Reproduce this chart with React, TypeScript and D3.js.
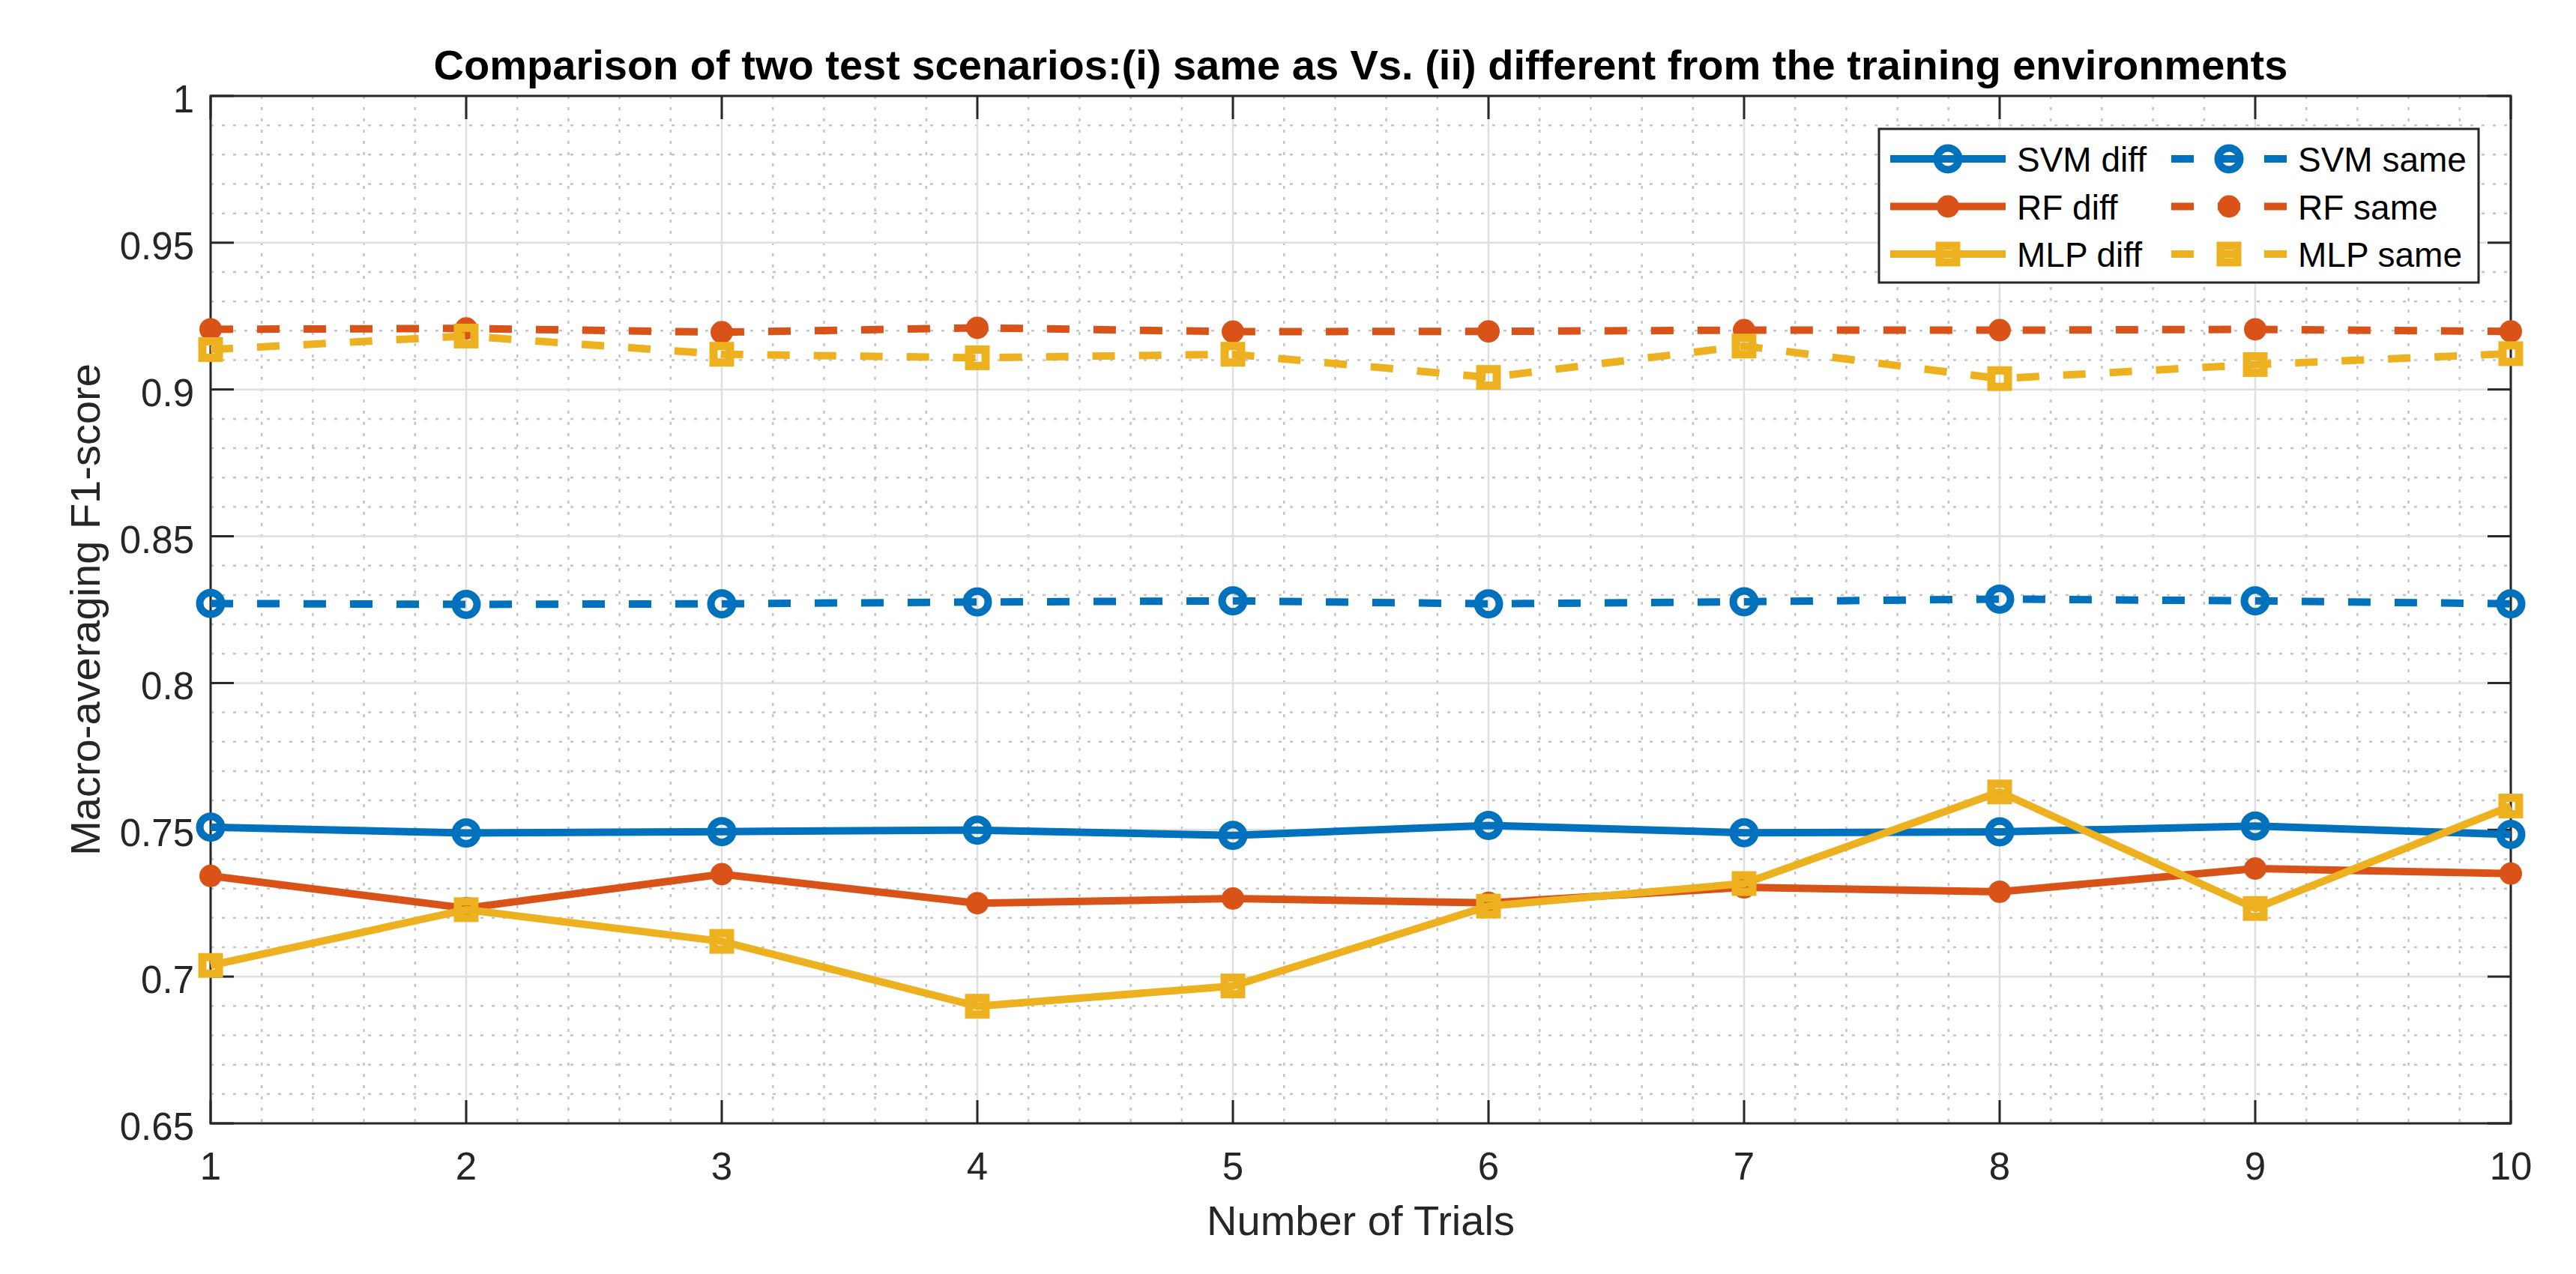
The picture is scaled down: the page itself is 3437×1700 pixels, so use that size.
import { useEffect, useRef } from 'react';
import * as d3 from 'd3';

// values
const trials = [1, 2, 3, 4, 5, 6, 7, 8, 9, 10];
const svmDiff = [0.7509, 0.7489, 0.7494, 0.7499, 0.7481, 0.7515, 0.749, 0.7493, 0.7513, 0.7484];
const rfDiff = [0.7343, 0.7233, 0.7349, 0.725, 0.7266, 0.7251, 0.7304, 0.7289, 0.7368, 0.7351];
const mlpDiff = [0.7038, 0.7228, 0.712, 0.6899, 0.6968, 0.724, 0.7317, 0.7629, 0.7232, 0.7581];
const svmSame = [0.8271, 0.8268, 0.827, 0.8276, 0.828, 0.827, 0.8277, 0.8286, 0.828, 0.827];
const rfSame = [0.9205, 0.9208, 0.9195, 0.921, 0.9197, 0.9198, 0.9202, 0.9202, 0.9205, 0.9198];
const mlpSame = [0.9136, 0.9182, 0.912, 0.9108, 0.912, 0.9041, 0.9148, 0.9037, 0.9085, 0.9122];

const yTicks = [0.65, 0.7, 0.75, 0.8, 0.85, 0.9, 0.95, 1];
const yTickLabels = ['0.65', '0.7', '0.75', '0.8', '0.85', '0.9', '0.95', '1'];
const xTickLabels = ['1', '2', '3', '4', '5', '6', '7', '8', '9', '10'];

const BLUE = '#0072BD';
const ORANGE = '#D95319';
const YELLOW = '#EDB120';

type Marker = 'ring' | 'dot' | 'square';

interface Series {
  name: string;
  values: number[];
  color: string;
  dashed: boolean;
  marker: Marker;
}

const series: Series[] = [
  { name: 'SVM diff', values: svmDiff, color: BLUE, dashed: false, marker: 'ring' },
  { name: 'RF diff', values: rfDiff, color: ORANGE, dashed: false, marker: 'dot' },
  { name: 'MLP diff', values: mlpDiff, color: YELLOW, dashed: false, marker: 'square' },
  { name: 'SVM same', values: svmSame, color: BLUE, dashed: true, marker: 'ring' },
  { name: 'RF same', values: rfSame, color: ORANGE, dashed: true, marker: 'dot' },
  { name: 'MLP same', values: mlpSame, color: YELLOW, dashed: true, marker: 'square' },
];

const FONT = '"Liberation Sans", Arial, Helvetica, sans-serif';

export default function App() {
  const svgRef = useRef<SVGSVGElement>(null);

  useEffect(() => {
    if (!svgRef.current) return;

    const width = 3437;
    const height = 1700;
    const m = { left: 281, right: 3350, top: 128, bottom: 1499 };
    const lw = 10;

    const svg = d3.select(svgRef.current);
    svg.selectAll('*').remove();
    svg.attr('width', width).attr('height', height);

    svg.append('rect').attr('width', width).attr('height', height).attr('fill', '#fff');

    const x = d3.scaleLinear().domain([1, 10]).range([m.left, m.right]);
    const y = d3.scaleLinear().domain([0.65, 1]).range([m.bottom, m.top]);

    // minor grid
    const minorX = d3.range(1, 10.0001, 0.2).filter((v) => Math.abs(v - Math.round(v)) > 1e-6);
    const minorY = d3.range(0.65, 1.0001, 0.01).filter((v) => Math.abs(v * 20 - Math.round(v * 20)) > 1e-6);
    const grid = svg.append('g');
    grid
      .selectAll('line.mx')
      .data(minorX)
      .join('line')
      .attr('x1', (d) => x(d))
      .attr('x2', (d) => x(d))
      .attr('y1', m.top)
      .attr('y2', m.bottom)
      .attr('stroke', '#c4c4c4')
      .attr('stroke-width', 2.5)
      .attr('stroke-dasharray', '4,11');
    grid
      .selectAll('line.my')
      .data(minorY)
      .join('line')
      .attr('x1', m.left)
      .attr('x2', m.right)
      .attr('y1', (d) => y(d))
      .attr('y2', (d) => y(d))
      .attr('stroke', '#c4c4c4')
      .attr('stroke-width', 2.5)
      .attr('stroke-dasharray', '4,11');

    // major grid
    grid
      .selectAll('line.gx')
      .data(trials)
      .join('line')
      .attr('x1', (d) => x(d))
      .attr('x2', (d) => x(d))
      .attr('y1', m.top)
      .attr('y2', m.bottom)
      .attr('stroke', '#dfdfdf')
      .attr('stroke-width', 2.5);
    grid
      .selectAll('line.gy')
      .data(yTicks)
      .join('line')
      .attr('x1', m.left)
      .attr('x2', m.right)
      .attr('y1', (d) => y(d))
      .attr('y2', (d) => y(d))
      .attr('stroke', '#dfdfdf')
      .attr('stroke-width', 2.5);

    // axes box and inward ticks
    const axisColor = '#262626';
    const tickLen = 31;
    const axes = svg.append('g').attr('stroke', axisColor).attr('stroke-width', 3);
    axes
      .append('rect')
      .attr('x', m.left)
      .attr('y', m.top)
      .attr('width', m.right - m.left)
      .attr('height', m.bottom - m.top)
      .attr('fill', 'none');
    trials.forEach((t) => {
      axes.append('line').attr('x1', x(t)).attr('x2', x(t)).attr('y1', m.bottom).attr('y2', m.bottom - tickLen);
      axes.append('line').attr('x1', x(t)).attr('x2', x(t)).attr('y1', m.top).attr('y2', m.top + tickLen);
    });
    yTicks.forEach((v) => {
      axes.append('line').attr('x1', m.left).attr('x2', m.left + tickLen).attr('y1', y(v)).attr('y2', y(v));
      axes.append('line').attr('x1', m.right).attr('x2', m.right - tickLen).attr('y1', y(v)).attr('y2', y(v));
    });

    // tick labels
    const labels = svg.append('g').attr('font-family', FONT).attr('fill', axisColor).attr('font-size', 51);
    labels
      .selectAll('text.xt')
      .data(trials)
      .join('text')
      .attr('x', (d) => x(d))
      .attr('y', 1574)
      .attr('text-anchor', 'middle')
      .text((_, i) => xTickLabels[i]);
    labels
      .selectAll('text.yt')
      .data(yTicks)
      .join('text')
      .attr('x', m.left - 22)
      .attr('y', (d) => y(d) + 22)
      .attr('text-anchor', 'end')
      .text((_, i) => yTickLabels[i]);

    // axis labels and title
    svg
      .append('text')
      .attr('x', (m.left + m.right) / 2)
      .attr('y', 1648)
      .attr('text-anchor', 'middle')
      .attr('font-family', FONT)
      .attr('font-size', 56)
      .attr('fill', axisColor)
      .text('Number of Trials');
    svg
      .append('text')
      .attr('transform', `translate(133,${(m.top + m.bottom) / 2}) rotate(-90)`)
      .attr('text-anchor', 'middle')
      .attr('font-family', FONT)
      .attr('font-size', 56)
      .attr('fill', axisColor)
      .text('Macro-averaging F1-score');
    svg
      .append('text')
      .attr('x', (m.left + m.right) / 2)
      .attr('y', 106)
      .attr('text-anchor', 'middle')
      .attr('font-family', FONT)
      .attr('font-size', 56)
      .attr('font-weight', 'bold')
      .attr('fill', '#000')
      .text('Comparison of two test scenarios:(i) same as Vs. (ii) different from the training environments');

    // markers
    const drawMarker = (g: d3.Selection<SVGGElement, unknown, null, undefined>, kind: Marker, cx: number, cy: number, color: string) => {
      if (kind === 'ring') {
        g.append('circle').attr('cx', cx).attr('cy', cy).attr('r', 14.5).attr('fill', 'none').attr('stroke', color).attr('stroke-width', lw);
      } else if (kind === 'dot') {
        g.append('circle').attr('cx', cx).attr('cy', cy).attr('r', 10).attr('fill', color).attr('stroke', color).attr('stroke-width', lw);
      } else {
        const s = 22;
        g.append('rect')
          .attr('x', cx - s / 2)
          .attr('y', cy - s / 2)
          .attr('width', s)
          .attr('height', s)
          .attr('fill', 'none')
          .attr('stroke', color)
          .attr('stroke-width', 11);
      }
    };

    const line = d3
      .line<number>()
      .x((_, i) => x(trials[i]))
      .y((d) => y(d));

    const plot = svg.append('g');
    series.forEach((s) => {
      const g = plot.append('g');
      g.append('path')
        .attr('d', line(s.values) ?? '')
        .attr('fill', 'none')
        .attr('stroke', s.color)
        .attr('stroke-width', lw)
        .attr('stroke-linejoin', 'round')
        .attr('stroke-dasharray', s.dashed ? '30,32' : null);
      s.values.forEach((v, i) => drawMarker(g, s.marker, x(trials[i]), y(v), s.color));
    });

    // legend (two columns, filled column-first)
    const lg = svg.append('g');
    lg.append('rect')
      .attr('x', 2507)
      .attr('y', 172)
      .attr('width', 800)
      .attr('height', 205)
      .attr('fill', '#fff')
      .attr('stroke', axisColor)
      .attr('stroke-width', 3);
    const colX = [2522, 2897];
    const rowY = [212, 275.5, 339];
    series.forEach((s, i) => {
      const col = Math.floor(i / 3);
      const row = i % 3;
      const x0 = colX[col];
      const cy = rowY[row];
      lg.append('line')
        .attr('x1', x0)
        .attr('x2', x0 + 154)
        .attr('y1', cy)
        .attr('y2', cy)
        .attr('stroke', s.color)
        .attr('stroke-width', lw)
        .attr('stroke-dasharray', s.dashed ? '30,32' : null);
      drawMarker(lg, s.marker, x0 + 77, cy, s.color);
      lg.append('text')
        .attr('x', x0 + 169)
        .attr('y', cy + 17)
        .attr('font-family', FONT)
        .attr('font-size', 46)
        .attr('fill', '#000')
        .text(s.name);
    });
  }, []);

  return <svg ref={svgRef} style={{ position: 'absolute', left: 0, top: 0, display: 'block' }} />;
}
